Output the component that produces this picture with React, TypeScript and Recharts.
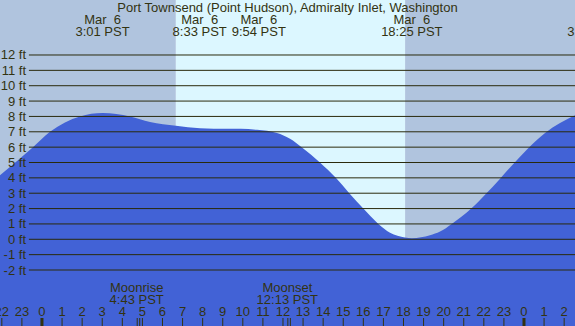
import React from 'react';
import { AreaChart, Area, XAxis, YAxis, ReferenceArea, ReferenceLine } from 'recharts';

const title = 'Port Townsend (Point Hudson), Admiralty Inlet, Washington';

// tide readings (hours from midnight Mar 6, feet)
const tideHours = [-2.09, -0.45, 0.4, 1.89, 3.02, 4.38, 5.38, 6.67, 7.87, 8.55, 9.9, 10.71, 11.7, 12.35, 12.93, 13.84, 14.63, 15.3, 16.0, 16.75, 17.33, 18.08, 18.42, 19.32, 19.82, 20.4, 21.4, 22.06, 22.81, 23.41, 24.15, 25.05, 26.54];
const tideFeet = [4.17, 6.0, 7.0, 8.0, 8.22, 8.0, 7.64, 7.4, 7.23, 7.2, 7.2, 7.13, 6.92, 6.55, 6.0, 5.0, 4.0, 3.0, 2.0, 1.0, 0.43, 0.12, 0.07, 0.26, 0.5, 1.0, 2.03, 2.9, 3.95, 4.82, 5.85, 6.92, 8.07];

const xDomain = [-2.09, 26.54];
const yDomain = [-5.646, 15.581];

const sunrise = 6.667;
const sunset = 18.08;

const gridStart = -0.65;
const feetTicks = [-2, -1, 0, 1, 2, 3, 4, 5, 6, 7, 8, 9, 10, 11, 12];
const feetLabels = ['-2 ft', '-1 ft', '0 ft', '1 ft', '2 ft', '3 ft', '4 ft', '5 ft', '6 ft', '7 ft', '8 ft', '9 ft', '10 ft', '11 ft', '12 ft'];

const hourTicks = [-2, -1, 0, 1, 2, 3, 4, 5, 6, 7, 8, 9, 10, 11, 12, 13, 14, 15, 16, 17, 18, 19, 20, 21, 22, 23, 24, 25, 26];
const hourLabels = ['22', '23', '0', '1', '2', '3', '4', '5', '6', '7', '8', '9', '10', '11', '12', '13', '14', '15', '16', '17', '18', '19', '20', '21', '22', '23', '0', '1', '2'];
const dayBoundaries = [0, 24];

const tideEventHours = [3.017, 8.55, 9.9, 18.417, 27.5];
const tideEventDates = ['Mar  6', 'Mar  6', 'Mar  6', 'Mar  6', 'Mar  7'];
const tideEventTimes = ['3:01 PST', '8:33 PST', '9:54 PST', '18:25 PST', '3:24 PST'];
const tideEventShift = [0, -14, 18, 0, 0];

const moonHours = [4.717, 12.217];
const moonNames = ['Moonrise', 'Moonset'];
const moonTimes = ['4:43 PST', '12:13 PST'];

const data = tideHours.map((h, i) => ({ h, ft: tideFeet[i] }));

const FONT = '"Liberation Sans", Arial, sans-serif';
const TEXT = '#333311';
const GRID = '#2a2a0c';

const makeHourLabel = (i: number) => (props: any) => {
  const vb = props.viewBox || {};
  const x = vb.x ?? 0;
  const thick = dayBoundaries.includes(hourTicks[i]);
  return (
    <g>
      <text x={x} y={316} textAnchor="middle" fontSize={13} fontFamily={FONT} fill={TEXT}>
        {hourLabels[i]}
      </text>
      <rect x={thick ? x - 1.5 : x - 0.5} y={318} width={thick ? 3 : 1} height={8} fill={TEXT} />
    </g>
  );
};

const makeFeetLabel = (i: number) => (props: any) => {
  const vb = props.viewBox || {};
  const y = vb.y ?? 0;
  return (
    <text x={26} y={y + 4.5} textAnchor="end" fontSize={13} fontFamily={FONT} fill={TEXT}>
      {feetLabels[i]}
    </text>
  );
};

const makeTopLabel = (i: number) => (props: any) => {
  const vb = props.viewBox || {};
  const cx = (vb.x ?? 0) + tideEventShift[i];
  return (
    <g>
      <text x={cx} y={24} textAnchor="middle" fontSize={13} fontFamily={FONT} fill={TEXT} style={{ whiteSpace: 'pre' }}>
        {tideEventDates[i]}
      </text>
      <text x={cx} y={36} textAnchor="middle" fontSize={13} fontFamily={FONT} fill={TEXT}>
        {tideEventTimes[i]}
      </text>
    </g>
  );
};

const makeMoonLabel = (i: number) => (props: any) => {
  const vb = props.viewBox || {};
  const cx = vb.x ?? 0;
  return (
    <g>
      <text x={cx} y={292} textAnchor="middle" fontSize={13} fontFamily={FONT} fill={TEXT}>
        {moonNames[i]}
      </text>
      <text x={cx} y={304} textAnchor="middle" fontSize={13} fontFamily={FONT} fill={TEXT}>
        {moonTimes[i]}
      </text>
      <rect x={cx} y={318} width={1} height={8} fill={TEXT} />
      <rect x={cx + 2.5} y={318} width={1} height={8} fill={TEXT} />
    </g>
  );
};

export default function App() {
  return (
    <div style={{ position: 'absolute', left: 0, top: 0, width: 575, height: 326, overflow: 'hidden' }}>
      <AreaChart width={575} height={326} data={data} margin={{ top: 0, right: 0, bottom: 0, left: 0 }}>
        <XAxis dataKey="h" type="number" domain={xDomain} allowDataOverflow hide />
        <YAxis type="number" domain={yDomain} allowDataOverflow hide />
        <ReferenceArea x1={xDomain[0]} x2={sunrise} y1={yDomain[0]} y2={yDomain[1]} fill="#b0c4de" fillOpacity={1} stroke="none" />
        <ReferenceArea x1={sunrise} x2={sunset} y1={yDomain[0]} y2={yDomain[1]} fill="#dcf7ff" fillOpacity={1} stroke="none" />
        <ReferenceArea x1={sunset} x2={xDomain[1]} y1={yDomain[0]} y2={yDomain[1]} fill="#b0c4de" fillOpacity={1} stroke="none" />
        <Area
          type="monotone"
          dataKey="ft"
          baseValue="dataMin"
          stroke="none"
          fill="#4262d6"
          fillOpacity={1}
          isAnimationActive={false}
        />
        {feetTicks.map((v, i) => (
          <ReferenceLine
            key={'g' + v}
            segment={[{ x: gridStart, y: v }, { x: xDomain[1], y: v }]}
            stroke={GRID}
            strokeWidth={1}
            label={makeFeetLabel(i)}
          />
        ))}
        {hourTicks.map((h, i) => (
          <ReferenceLine key={'h' + i} x={h} stroke="none" strokeOpacity={0} ifOverflow="visible" label={makeHourLabel(i)} />
        ))}
        {tideEventHours.map((h, i) => (
          <ReferenceLine key={'t' + i} x={h} stroke="none" strokeOpacity={0} ifOverflow="visible" label={makeTopLabel(i)} />
        ))}
        {moonHours.map((h, i) => (
          <ReferenceLine key={'m' + i} x={h} stroke="none" strokeOpacity={0} label={makeMoonLabel(i)} />
        ))}
      </AreaChart>
      <div
        style={{
          position: 'absolute',
          left: 0,
          top: 0,
          width: 575,
          textAlign: 'center',
          fontFamily: FONT,
          fontSize: 13,
          lineHeight: '15px',
          color: TEXT,
          whiteSpace: 'pre',
        }}
      >
        {title}
      </div>
    </div>
  );
}
